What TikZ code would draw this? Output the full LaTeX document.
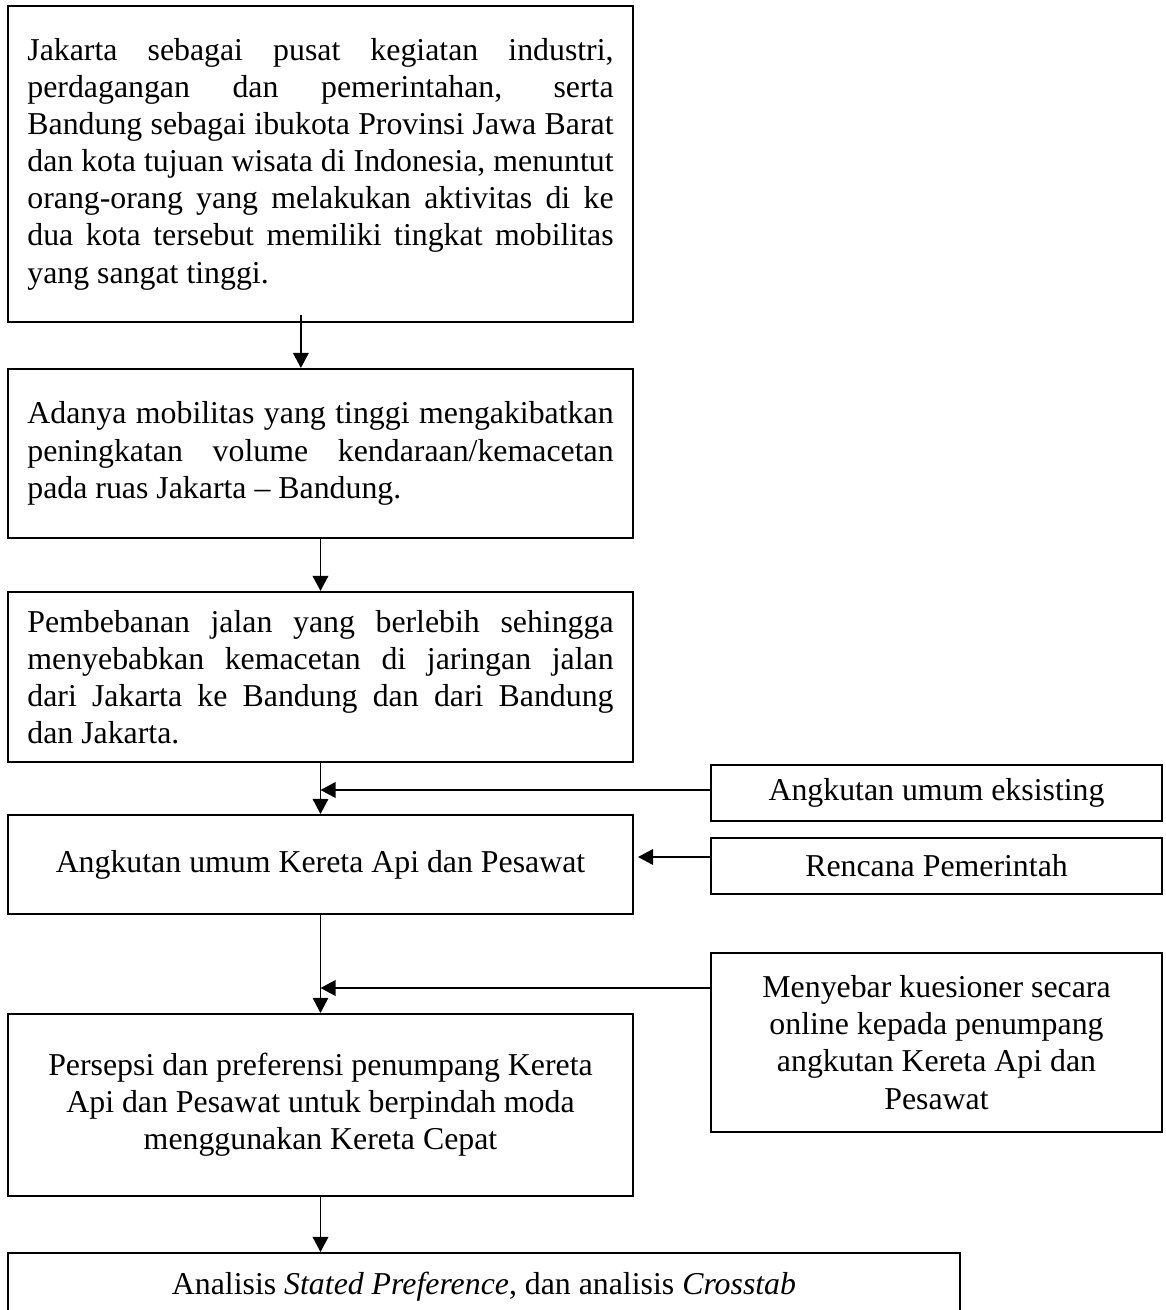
\documentclass[tikz,border=0pt]{standalone}
\usepackage{fontspec}
\setmainfont{Liberation Serif}
\usetikzlibrary{arrows.meta}

\tikzset{
    kotak/.style={draw, line width=0.8pt, inner xsep=7.3pt, inner ysep=0pt,
        font=\fontsize{12pt}{14pt}\selectfont},
    kiri/.style={kotak, minimum width=235.6pt},
    rata/.style={kiri, text width=221pt, align=justify},
    kanan/.style={kotak, minimum width=170pt, align=center},
}

\begin{document}
\begin{tikzpicture}[x=0.377pt,y=-0.377pt,>={Triangle[length=5.7pt,width=5.9pt]}]
                \useasboundingbox (0,0) rectangle (1165,1310);
                \clip (0,0) rectangle (1165,1310);

                \node[rata, minimum height=119.1pt] (jkt) at (320.5,164)
                    {Jakarta sebagai pusat kegiatan industri,\linebreak
                     perdagangan dan pemerintahan, serta\linebreak
                     Bandung sebagai ibukota Provinsi Jawa Barat\linebreak
                     dan kota tujuan wisata di Indonesia, menuntut\linebreak
                     orang-orang yang melakukan aktivitas di ke\linebreak
                     dua kota tersebut memiliki tingkat mobilitas\linebreak
                     yang sangat tinggi.};
                \node[rata, minimum height=63.7pt] (mob) at (320.5,453.5)
                    {Adanya mobilitas yang tinggi mengakibatkan\linebreak
                     peningkatan volume kendaraan/kemacetan\linebreak
                     pada ruas Jakarta -- Bandung.};
                \node[rata, minimum height=64.1pt] (beban) at (320.5,677)
                    {Pembebanan jalan yang berlebih sehingga\linebreak
                     menyebabkan kemacetan di jaringan jalan\linebreak
                     dari Jakarta ke Bandung dan dari Bandung\linebreak
                     dan Jakarta.};
                \node[kiri, minimum height=37.3pt] (angk) at (320.5,864.5)
                    {Angkutan umum Kereta Api dan Pesawat};
                \node[kiri, minimum height=68.6pt, align=center] (persepsi) at (320.5,1105)
                    {Persepsi dan preferensi penumpang Kereta\\
                     Api dan Pesawat untuk berpindah moda\\
                     menggunakan Kereta Cepat};
                \node[kotak, minimum width=358.9pt, minimum height=25.6pt] (analisis) at (484,1287)
                    {Analisis \textit{Stated Preference}, dan analisis \textit{Crosstab}};

                \node[kanan, minimum height=21.1pt] (eksis) at (936.5,793)
                    {Angkutan umum eksisting};
                \node[kanan, minimum height=21.1pt] (rencana) at (936.5,866)
                    {Rencana Pemerintah};
                \node[kanan, minimum height=67.5pt] (kues) at (936.5,1042.5)
                    {Menyebar kuesioner secara\\
                     online kepada penumpang\\
                     angkutan Kereta Api dan\\
                     Pesawat};

                \coordinate (m1) at (320.5,790);
                \coordinate (m2) at (320.5,988);
                \coordinate (m3) at (638,857);

                \draw [->, line width=0.65pt] ([xshift=-7.4pt,yshift=3pt]jkt.south) -- ([xshift=-7.4pt]mob.north);
                \draw [->, line width=0.65pt] (mob) -- (beban);
                \draw [->, line width=0.65pt] (beban) -- (angk);
                \draw [->, line width=0.65pt] (eksis.west |- m1) -- (m1);
                \draw [->, line width=0.65pt] (rencana.west |- m3) -- (m3);
                \draw [->, line width=0.35pt] (angk) -- (persepsi);
                \draw [->, line width=0.65pt] (kues.west |- m2) -- (m2);
                \draw [->, line width=0.65pt] (persepsi.south) -- (persepsi.south |- analisis.north);
            \end{tikzpicture}
\end{document}
